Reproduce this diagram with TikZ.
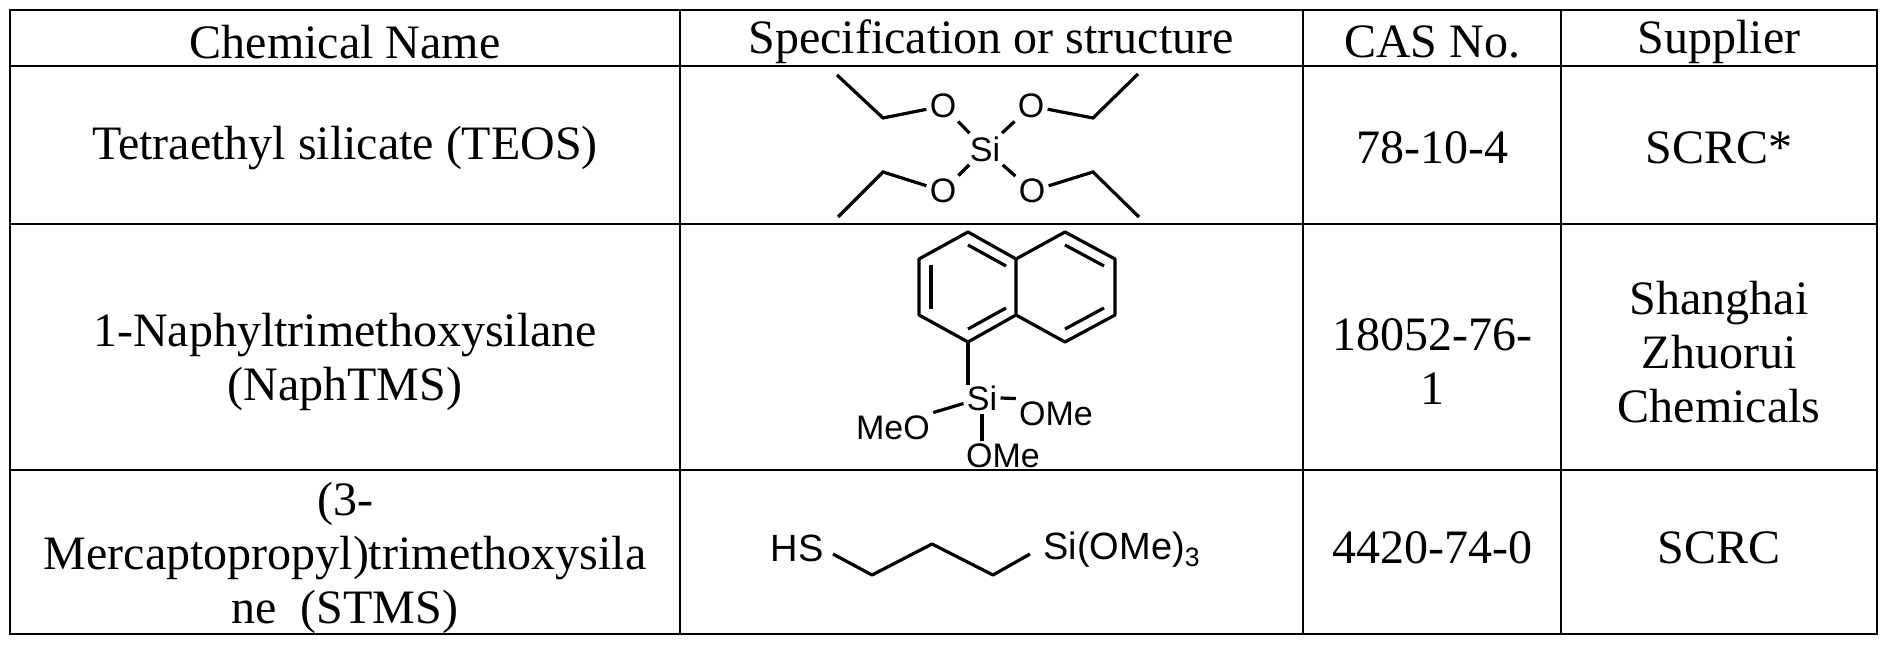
\documentclass[tikz,border=0pt]{standalone}
\usepackage{fontspec}
\setmainfont{Liberation Serif}
\setsansfont{Liberation Sans}
\begin{document}
\begin{tikzpicture}[
        x=0.5pt, y=-0.5pt,
        font=\fontsize{24}{27}\selectfont
    ]
    \tikzset{
        cell/.style = {align=center, inner sep=0pt},
        atom/.style = {inner sep=1.5pt, font=\sffamily\fontsize{17}{17}\selectfont},
        tail/.style = {inner sep=1.5pt, font=\sffamily\fontsize{19}{19}\selectfont},
        bond/.style = {line width=1.6pt},
        grid/.style = {line width=1.3pt},
    }
    \useasboundingbox (0,0) rectangle (1893,672);
    % table rules
    \draw[grid] (10,10) rectangle (1877,634);
    \foreach \y in {66,224,470} \draw[grid] (10,\y) -- (1877,\y);
    \foreach \x in {680,1303,1561} \draw[grid] (\x,10) -- (\x,634);
    % header
    \node[cell] at (345,42) (h1) {Chemical Name};
    \node[cell] at (991,42) (h2) {Specification or structure};
    \node[cell] at (1432,42) (h3) {CAS No.};
    \node[cell] at (1719,42) (h4) {Supplier};
    % names, numbers, suppliers
    \node[cell] at (345,148) (n1) {Tetraethyl silicate (TEOS)};
    \node[cell] at (345,362) (n2) {1-Naphyltrimethoxysilane\\(NaphTMS)};
    \node[cell] at (345,558) (n3) {(3-\\Mercaptopropyl)trimethoxysila\\ne\ \ (STMS)};
    \node[cell] at (1432,148) (c1) {78-10-4};
    \node[cell] at (1432,362) (c2) {18052-76-\\1};
    \node[cell] at (1432,548) (c3) {4420-74-0};
    \node[cell] at (1719,148) (s1) {SCRC*};
    \node[cell] at (1719,352) (s2) {Shanghai\\Zhuorui\\Chemicals};
    \node[cell] at (1719,548) (s3) {SCRC};
    % TEOS
    \node[atom] at (985,149) (si) {Si};
    \node[atom] at (943,106) (o1) {O};
    \node[atom] at (1031,106) (o2) {O};
    \node[atom] at (943,191) (o3) {O};
    \node[atom] at (1032,191) (o4) {O};
    \coordinate (a1) at (883,118); \coordinate (e1) at (837,75);
    \coordinate (a2) at (1093,118); \coordinate (e2) at (1138,74);
    \coordinate (a3) at (883,172); \coordinate (e3) at (838,217);
    \coordinate (a4) at (1093,172); \coordinate (e4) at (1139,217);
    \foreach \i in {1,...,4} {
        \draw[bond] (si) -- (o\i);
        \draw[bond] (o\i) -- (a\i) -- (e\i);
    }
    % naphthalene
    \coordinate (r1) at (968,232); \coordinate (r2) at (919,259);
    \coordinate (r3) at (919,315); \coordinate (r4) at (968,342);
    \coordinate (r5) at (1016,315); \coordinate (r6) at (1016,259);
    \coordinate (r7) at (1065,232); \coordinate (r8) at (1115,259);
    \coordinate (r9) at (1115,315); \coordinate (r10) at (1065,342);
    \draw[bond,line join=round] (r1) -- (r2) -- (r3) -- (r4) -- (r5) -- (r6) -- cycle;
    \draw[bond,line join=round] (r6) -- (r7) -- (r8) -- (r9) -- (r10) -- (r5);
    \draw[bond] (968,245) -- (1006,266);
    \draw[bond] (931,265) -- (931,309);
    \draw[bond] (968,329) -- (1006,308);
    \draw[bond] (1065,245) -- (1104,266);
    \draw[bond] (1104,308) -- (1065,329);
    \node[atom] at (982,398) (si2) {Si};
    \node[atom] at (893,428) (meo) {MeO};
    \node[atom] at (1056,414) (ome1) {OMe};
    \node[atom] at (1003,456) (ome2) {OMe};
    \draw[bond] (r4) -- (968,385);
    \draw[bond] (si2) -- (meo.north east);
    \draw[bond] (si2.east) -- (ome1.north west);
    \draw[bond] (si2.south) -- (si2.south |- ome2.north);
    % mercaptopropyl chain
    \node[tail] at (797,548) (hs) {HS};
    \node[tail] at (1122,550) (sim) {Si(OMe)\textsubscript{3}};
    \coordinate (k1) at (872,575); \coordinate (k2) at (932,544);
    \coordinate (k3) at (993,575);
    \draw[bond,line join=round] (833,554) -- (k1) -- (k2) -- (k3) -- (1030,554);
\end{tikzpicture}
\end{document}
